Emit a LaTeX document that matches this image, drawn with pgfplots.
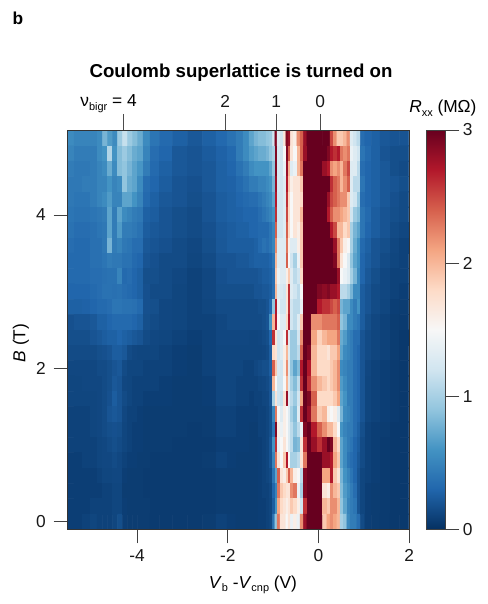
\documentclass[border=0pt]{standalone}
\usepackage{pgfplots}
\usepackage{pgfplotstable}
\pgfplotsset{compat=1.18}
\usepackage{fontspec}
\setmainfont{Liberation Sans}
\newcommand{\fs}{\fontsize{13}{15}\selectfont}
\newcommand{\sub}[1]{\raisebox{-2.8pt}{\fontsize{8.2}{9}\selectfont #1}}
\pgfplotsset{colormap={rdbur}{rgb255=(5,48,97) rgb255=(33,102,172) rgb255=(67,147,195) rgb255=(146,197,222) rgb255=(209,229,240) rgb255=(247,247,247) rgb255=(253,219,199) rgb255=(244,165,130) rgb255=(214,96,77) rgb255=(178,24,43) rgb255=(103,0,31)}}
\def\xcols{{-5.481,-5.305,-5.128,-4.951,-4.819,-4.709,-4.598,-4.488,-4.377,-4.267,-4.157,-4.046,-3.936,-3.803,-3.627,-3.384,-3.053,-2.722,-2.391,-2.126,-1.905,-1.728,-1.596,-1.464,-1.375,-1.287,-1.199,-1.110,-1.038,-0.985,-0.940,-0.883,-0.808,-0.742,-0.691,-0.647,-0.587,-0.514,-0.442,-0.366,-0.294,-0.221,-0.110,0.038,0.148,0.221,0.296,0.369,0.442,0.517,0.589,0.662,0.737,0.810,0.883,0.971,1.082,1.252,1.473,1.693,1.892}}
\pgfplotstableread[row sep=crcr,header=false]{
.55\\.5\\.5\\.5\\.55\\.8\\.65\\.55\\.95\\1.15\\.95\\.85\\.75\\.55\\.4\\.33\\.27\\.22\\.27\\.32\\.38\\.45\\.55\\ .7\\.8\\.85\\.85\\.9\\.95\\1.2\\2.9\\1.3\\1.2\\1.7\\2.9\\2.8\\1.7\\1.6\\2.2\\2.4\\2.8\\3\\3\\3\\3\\3\\2.5\\2.2\\1.9\\1.9\\2.0\\2.2\\1.3\\1.2\\1.1\\.35\\.3\\ .27\\.22\\.2\\.2\\
.5\\.45\\.45\\.45\\.55\\.6\\1.05\\.6\\.85\\.95\\.85\\.75\\.7\\.5\\.35\\.3\\.22\\.2\\.24\\.28\\.32\\.45\\.55\\ .65\\.7\\.75\\.75\\.8\\.9\\1.0\\2.9\\1.25\\1.2\\1.5\\2.9\\2.4\\1.7\\1.5\\2.0\\2.4\\2.8\\3\\3\\3\\3\\2.9\\2.7\\2.6\\2.7\\2.3\\2.2\\2.3\\1.4\\1.3\\1.2\\.4\\.33\\ .27\\.2\\.17\\.17\\
.45\\.42\\.42\\.45\\.5\\.55\\.75\\.55\\.85\\.9\\.8\\.7\\.62\\.45\\.33\\.27\\.22\\.2\\.22\\.27\\.3\\.38\\.45\\ .55\\.6\\.6\\.6\\.6\\.7\\.9\\2.9\\1.25\\1.2\\1.4\\2.8\\2.0\\1.3\\1.4\\2.0\\2.3\\3\\3\\3\\3\\2.8\\2.7\\2.2\\2.1\\2.2\\2.0\\2.3\\2.5\\1.3\\1.3\\1.1\\.35\\.3\\ .27\\.22\\.17\\.15\\
.42\\.42\\.45\\.45\\.5\\.5\\.6\\.5\\.55\\.9\\.75\\.7\\.55\\.35\\.3\\.25\\.2\\.18\\.22\\.27\\.28\\.33\\.38\\ .45\\.45\\.5\\.5\\.55\\.6\\.8\\2.8\\1.25\\1.2\\1.3\\2.7\\1.9\\1.6\\1.7\\1.7\\1.9\\3\\3\\3\\3\\3\\3\\2.6\\2.4\\2.3\\2.0\\2.2\\2.4\\1.3\\1.1\\1.1\\.4\\.3\\ .27\\.22\\.2\\.17\\
.42\\.4\\.4\\.45\\.5\\.55\\.65\\.5\\.5\\.7\\.7\\.6\\.5\\.33\\.27\\.22\\.2\\.17\\.2\\.25\\.27\\.3\\.33\\ .35\\.35\\.4\\.45\\.5\\.55\\.7\\2.7\\1.2\\1.2\\1.3\\2.6\\1.8\\1.5\\1.7\\1.7\\1.8\\3\\3\\3\\3\\3\\2.8\\2.5\\2.4\\2.3\\2.2\\2.2\\1.9\\1.3\\1.2\\.95\\.35\\.3\\ .27\\.22\\.18\\.15\\
.4\\.38\\.38\\.4\\.42\\.45\\.7\\.45\\.7\\.55\\.5\\.45\\.42\\.27\\.25\\.2\\.17\\.15\\.2\\.25\\.27\\.28\\.3\\ .3\\.3\\.35\\.4\\.45\\.5\\.6\\2.6\\1.2\\1.2\\1.3\\2.5\\1.8\\1.5\\1.7\\1.7\\2.0\\3\\3\\3\\3\\3\\2.7\\2.4\\2.2\\2.2\\2.1\\2.0\\1.9\\1.2\\.95\\.85\\.4\\.33\\ .25\\.2\\.17\\.15\\
.38\\.35\\.35\\.37\\.4\\.42\\.7\\.45\\.65\\.45\\.45\\.42\\.38\\.25\\.22\\.2\\.17\\.15\\.18\\.23\\.25\\.27\\.27\\ .3\\.3\\.33\\.33\\.33\\.4\\.5\\2.4\\1.2\\1.2\\1.3\\2.4\\1.8\\1.5\\1.7\\1.6\\1.9\\3\\3\\3\\3\\3\\3\\2.7\\2.5\\2.0\\2.0\\1.8\\1.9\\1.0\\.8\\.7\\.4\\.3\\ .25\\.2\\.15\\.13\\
.35\\.33\\.33\\.37\\.37\\.42\\.8\\.45\\.5\\.42\\.4\\.35\\.35\\.22\\.2\\.18\\.15\\.13\\.17\\.22\\.25\\.25\\.25\\ .25\\.27\\.33\\.38\\.35\\.4\\.5\\2.2\\1.3\\1.3\\1.3\\2.3\\1.6\\1.3\\1.3\\1.6\\1.9\\3\\3\\3\\3\\3\\3\\3\\2.8\\2.3\\1.9\\1.6\\1.5\\1.0\\.75\\.6\\.33\\.27\\ .2\\.17\\.13\\.1\\
.33\\.33\\.33\\.37\\.37\\.4\\.45\\.42\\.42\\.38\\.38\\.33\\.3\\.2\\.18\\.15\\.15\\.12\\.15\\.2\\.2\\.22\\.22\\ .25\\.27\\.27\\.27\\.27\\.3\\.4\\2.0\\1.3\\1.3\\1.3\\2.4\\1.5\\1.2\\1.0\\1.4\\1.9\\3\\3\\3\\3\\3\\3\\3\\2.9\\2.3\\1.7\\1.5\\1.3\\.9\\.7\\.6\\.3\\.25\\ .2\\.15\\.12\\.1\\
.33\\.33\\.33\\.35\\.35\\.37\\.38\\.38\\.5\\.33\\.35\\.3\\.27\\.17\\.17\\.15\\.13\\.1\\.13\\.18\\.2\\.2\\.2\\ .2\\.2\\.22\\.25\\.25\\.27\\.35\\1.9\\1.4\\1.3\\1.3\\1.6\\1.9\\1.3\\1.1\\1.2\\1.8\\3\\3\\3\\3\\3\\3\\3\\3\\2.8\\1.5\\1.4\\1.3\\1.0\\.8\\.55\\.3\\.22\\ .17\\.13\\.1\\.1\\
.3\\.3\\.3\\.33\\.35\\.38\\.38\\.37\\.38\\.35\\.33\\.3\\.27\\.18\\.15\\.15\\.12\\.1\\.13\\.17\\.17\\.17\\.17\\ .17\\.2\\.2\\.22\\.22\\.25\\.35\\2.0\\1.3\\1.25\\1.2\\1.7\\2.6\\1.3\\1.2\\1.1\\1.5\\3\\3\\3\\2.9\\2.85\\2.9\\2.8\\2.8\\2.7\\1.1\\1.1\\1.0\\.8\\.55\\.55\\.25\\.2\\ .15\\.13\\.1\\.08\\
.27\\.27\\.28\\.3\\.33\\.33\\.35\\.4\\.4\\.38\\.38\\.37\\.33\\.18\\.17\\.13\\.12\\.1\\.12\\.15\\.15\\.15\\.15\\ .15\\.15\\.17\\.17\\.2\\.3\\.9\\2.7\\1.4\\1.2\\1.2\\1.7\\2.6\\1.2\\1.1\\1.1\\1.4\\3\\3\\3\\2.7\\2.6\\2.6\\2.5\\2.4\\2.5\\.8\\.7\\.7\\.55\\.45\\.6\\.25\\.2\\ .15\\.12\\.08\\.07\\
.18\\.2\\.2\\.22\\.27\\.27\\.3\\.33\\.33\\.33\\.33\\.3\\.27\\.17\\.15\\.13\\.12\\.1\\.1\\.13\\.15\\.15\\.15\\ .15\\.15\\.15\\.17\\.2\\.6\\2.0\\2.7\\1.5\\1.3\\1.3\\1.8\\2.7\\1.2\\1.1\\1.3\\1.9\\3\\3\\2.2\\2.2\\2.3\\2.3\\2.3\\2.3\\2.4\\.9\\.8\\.55\\.55\\.45\\.4\\.25\\.17\\ .13\\.1\\.07\\.06\\
.17\\.17\\.17\\.2\\.22\\.25\\.27\\.27\\.3\\.27\\.25\\.22\\.2\\.15\\.13\\.12\\.1\\.08\\.1\\.13\\.13\\.13\\.13\\ .12\\.12\\.13\\.15\\.17\\.3\\2.6\\1.7\\1.2\\1.3\\1.5\\2.6\\1.3\\.95\\.95\\1.2\\2.2\\3\\3\\2.1\\1.85\\2.0\\2.1\\2.1\\2.1\\2.3\\.75\\.65\\.5\\.45\\.35\\.35\\.2\\.15\\ .12\\.1\\.07\\.05\\
.15\\.15\\.15\\.15\\.17\\.18\\.2\\.25\\.25\\.22\\.15\\.13\\.12\\.12\\.12\\.1\\.08\\.07\\.1\\.12\\.12\\.12\\.12\\ .12\\.12\\.12\\.13\\.15\\.25\\1.8\\1.7\\1.2\\1.3\\1.6\\2.0\\1.3\\.95\\.95\\1.1\\2.4\\3\\2.9\\2.0\\1.8\\1.8\\1.7\\1.9\\1.9\\2.1\\.7\\.55\\.5\\.45\\.35\\.3\\.2\\.15\\ .12\\.1\\.07\\.05\\
.13\\.13\\.13\\.13\\.15\\.15\\.17\\.2\\.22\\.15\\.12\\.12\\.12\\.1\\.1\\.1\\.08\\.07\\.1\\.12\\.12\\.12\\.1\\ .1\\.13\\.15\\.17\\.17\\.25\\2.4\\1.9\\1.25\\1.2\\1.6\\2.2\\1.3\\.9\\.7\\.85\\2.7\\3\\2.7\\2.0\\1.8\\1.8\\1.8\\1.9\\2.0\\2.2\\.55\\.5\\.45\\.45\\.35\\.3\\.2\\.13\\ .1\\.08\\.06\\.05\\
.12\\.12\\.13\\.13\\.13\\.15\\.17\\.22\\.2\\.13\\.12\\.1\\.1\\.1\\.1\\.08\\.07\\.07\\.08\\.12\\.12\\.1\\.1\\ .1\\.1\\.12\\.13\\.15\\.2\\2.0\\1.5\\1.2\\1.2\\1.5\\2.0\\1.3\\1.0\\.85\\1.1\\2.6\\3\\2.6\\2.2\\2.0\\1.9\\1.8\\1.9\\2.0\\2.2\\.65\\.55\\.45\\.45\\.35\\.3\\.2\\.12\\ .1\\.08\\.06\\.05\\
.12\\.12\\.12\\.12\\.13\\.15\\.18\\.25\\.2\\.15\\.12\\.1\\.1\\.08\\.08\\.08\\.07\\.07\\.08\\.12\\.12\\.1\\.1\\ .08\\.1\\.1\\.12\\.13\\.2\\1.0\\1.7\\1.2\\1.15\\1.7\\2.8\\1.3\\1.1\\.95\\1.2\\2.1\\3\\2.9\\2.4\\1.8\\1.8\\1.8\\1.8\\1.9\\2.1\\.7\\.6\\.45\\.45\\.35\\.3\\.2\\.12\\ .1\\.08\\.06\\.05\\
.1\\.1\\.1\\.12\\.13\\.15\\.2\\.22\\.2\\.13\\.1\\.1\\.08\\.07\\.07\\.07\\.07\\.07\\.07\\.1\\.1\\.08\\.08\\ .08\\.08\\.1\\.1\\.12\\.17\\.5\\2.3\\1.5\\1.3\\1.6\\1.5\\1.3\\1.0\\.85\\1.3\\2.6\\3\\2.8\\2.3\\1.9\\2.0\\1.6\\1.5\\1.6\\1.3\\.8\\.55\\.5\\.45\\.35\\.3\\.2\\.12\\ .1\\.08\\.06\\.05\\
.1\\.1\\.1\\.12\\.13\\.15\\.17\\.18\\.17\\.12\\.1\\.08\\.08\\.07\\.07\\.07\\.07\\.06\\.07\\.1\\.1\\.08\\.08\\ .07\\.07\\.1\\.1\\.12\\.17\\.4\\2.9\\1.6\\1.4\\1.6\\1.5\\1.3\\1.1\\.9\\1.1\\1.4\\2.9\\3\\2.7\\2.4\\2.2\\2.0\\2.0\\1.8\\1.5\\.6\\.5\\.45\\.45\\.35\\.27\\.17\\.1\\ .08\\.07\\.05\\.05\\
.1\\.1\\.1\\.1\\.12\\.13\\.15\\.17\\.15\\.12\\.1\\.08\\.08\\.07\\.07\\.07\\.06\\.06\\.06\\.08\\.08\\.08\\.08\\ .07\\.07\\.08\\.1\\.12\\.2\\.6\\2.6\\1.4\\1.5\\1.7\\1.5\\1.3\\1.1\\.8\\.85\\1.7\\2.6\\3\\2.8\\2.6\\2.8\\3\\2.9\\2.0\\1.8\\.7\\.55\\.45\\.4\\.3\\.25\\.15\\.1\\ .08\\.06\\.05\\.05\\
.08\\.08\\.1\\.1\\.12\\.13\\.13\\.15\\.13\\.1\\.08\\.08\\.07\\.07\\.06\\.06\\.06\\.06\\.07\\.1\\.08\\.07\\.07\\ .07\\.07\\.08\\.1\\.12\\.2\\.5\\2.3\\1.7\\1.5\\1.9\\2.7\\1.5\\1.0\\1.0\\1.1\\1.7\\2.3\\3\\3\\3\\2.8\\2.8\\2.7\\2.1\\1.9\\.7\\.55\\.4\\.35\\.3\\.22\\.15\\.1\\ .08\\.06\\.05\\.05\\
.08\\.08\\.08\\.08\\.1\\.12\\.12\\.13\\.13\\.08\\.07\\.07\\.07\\.06\\.06\\.06\\.06\\.06\\.06\\.07\\.07\\.07\\.07\\ .07\\.07\\.08\\.1\\.12\\.15\\.4\\.7\\2.4\\1.7\\1.6\\1.9\\2.4\\2.0\\1.6\\1.5\\1.1\\2.9\\3\\3\\3\\2.1\\2.1\\2.7\\1.9\\1.7\\.8\\.6\\.5\\.4\\.3\\.2\\.12\\.1\\ .08\\.06\\.05\\.05\\
.08\\.08\\.08\\.08\\.08\\.1\\.1\\.12\\.12\\.07\\.07\\.07\\.07\\.06\\.06\\.06\\.06\\.06\\.06\\.07\\.07\\.07\\.07\\ .07\\.07\\.08\\.1\\.1\\.13\\.3\\.5\\2.3\\1.9\\1.8\\1.7\\1.7\\2.2\\2.3\\1.4\\1.0\\2.9\\3\\3\\3\\1.7\\1.6\\2.2\\2.0\\1.9\\.85\\.65\\.55\\.45\\.35\\.2\\.12\\.08\\ .07\\.06\\.05\\.05\\
.08\\.08\\.08\\.1\\.1\\.1\\.1\\.12\\.12\\.08\\.07\\.07\\.07\\.07\\.06\\.06\\.06\\.06\\.06\\.07\\.07\\.07\\.07\\ .07\\.07\\.08\\.08\\.1\\.12\\.25\\.6\\2.1\\1.8\\1.7\\1.6\\1.7\\1.9\\1.8\\1.6\\1.2\\2.6\\3\\3\\3\\2.0\\1.9\\2.2\\2.2\\2.0\\.9\\.7\\.5\\.45\\.4\\.2\\.12\\.08\\ .07\\.06\\.05\\.05\\
.08\\.08\\.1\\.12\\.1\\.1\\.1\\.12\\.17\\.08\\.07\\.07\\.07\\.07\\.06\\.06\\.06\\.06\\.07\\.1\\.08\\.07\\.07\\ .07\\.07\\.08\\.08\\.1\\.13\\.4\\.9\\2.3\\1.7\\1.7\\1.5\\1.7\\1.4\\1.6\\1.4\\2.2\\2.8\\3\\3\\3\\1.9\\2.1\\2.2\\2.1\\2.0\\1.0\\.9\\.55\\.45\\.45\\.35\\.15\\.08\\ .07\\.06\\.05\\.05\\
}\rxx
\gdef\allc{}
\pgfplotstableforeachcolumnelement{[index]0}\of\rxx\as\cell{%
  \pgfmathtruncatemacro\cc{mod(\pgfplotstablerow,61)}%
  \pgfmathsetmacro\xx{\xcols[\cc]}%
  \pgfmathsetmacro\yy{5-0.2*floor(\pgfplotstablerow/61)}%
  \pgfmathsetmacro\mm{\cell}%
  \xdef\allc{\allc (\xx,\yy)[\mm] }%
}
\begin{document}
\begin{tikzpicture}
\path[use as bounding box] (0,0) rectangle (365.25pt,453pt);
\begin{axis}[
  name=main, at={(50.8pt,56pt)}, anchor=south west, scale only axis,
  width=256pt, height=299.5pt,
  xmin=-5.532, xmax=2.0, ymin=-0.099, ymax=5.107,
  xtick={-4,-2,0,2}, xticklabels={-4,-2,0,2},
  ytick={0,2,4}, yticklabels={0,2,4},
  xtick pos=bottom, ytick pos=left, tick align=outside,
  major tick length=10.5pt, tick style={line width=0.6pt,color=black!75},
  axis line style={line width=0.7pt,color=black!80},
  tick label style={font=\fs,text=black!90},
  xticklabel style={yshift=-1pt}, yticklabel style={xshift=-2.5pt},
  colormap name=rdbur, point meta min=0, point meta max=3,
  colorbar,
  colorbar style={at={(1.0498,0)}, anchor=south west, width=14.5pt, height=299.5pt,
    ytick={0,1,2,3}, yticklabels={0,1,2,3}, ytick pos=right, yticklabel pos=right,
    major tick length=10.5pt, tick align=outside,
    tick label style={font=\fs,text=black!90}, yticklabel style={xshift=-1pt},
    axis line style={line width=0.6pt,color=black!75}},
  axis on top,
]
\edef\doplot{\noexpand\addplot[matrix plot*, mesh/cols=61, point meta=explicit] coordinates {\allc};}
\doplot
\end{axis}
\begin{axis}[
  at={(50.8pt,56pt)}, anchor=south west, scale only axis,
  width=256pt, height=299.5pt,
  xmin=-5.532, xmax=2.0, ymin=-0.099, ymax=5.107,
  axis x line*=top, axis y line=none,
  xtick={-4.30,-2.06,-0.934,0.04}, xticklabels={,2,1,0},
  xtick pos=top, xticklabel pos=top, tick align=outside,
  major tick length=12pt, tick style={line width=0.6pt,color=black!70},
  axis line style={draw=none},
  tick label style={font=\fs,text=black!90}, xticklabel style={yshift=1pt},
]
\end{axis}
\begin{scope}[x=0.75pt,y=0.75pt]
\node[anchor=center,inner sep=0pt] at (18,586) {\fontsize{13}{15}\selectfont\bfseries b};
\node[anchor=center,inner sep=0pt] at (241,531) {\fontsize{14}{16}\selectfont\bfseries Coulomb superlattice is turned on};
\node[anchor=base east,inner sep=0pt] at (137,497) {\fs ν\sub{bigr} = 4};
\node[anchor=base west,inner sep=0pt] at (409,491) {\fs\textit{R}\sub{xx} (MΩ)};
\node[anchor=center,inner sep=0pt,rotate=90] at (21,261) {\fs\textit{B} (T)};
\node[anchor=base,inner sep=0pt] at (253,16) {\fs\textit{V}\sub{b} -\textit{V}\sub{cnp} (V)};
\end{scope}
\end{tikzpicture}
\end{document}
